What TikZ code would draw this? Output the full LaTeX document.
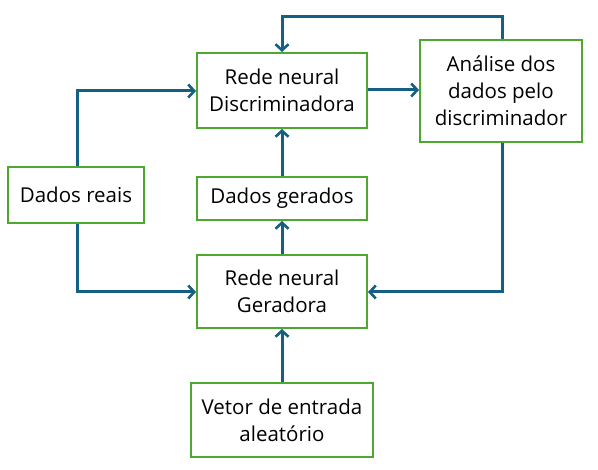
\documentclass[tikz,border=0pt]{standalone}
\usepackage{fontspec}
\setmainfont{Open Sans}
\usetikzlibrary{arrows.meta}
\definecolor{lineblue}{HTML}{156082}
\definecolor{boxgreen}{HTML}{4EA72E}
\begin{document}
\begin{tikzpicture}[x=1pt,y=-1pt,
  box/.style={draw=boxgreen,line width=2pt,fill=white,inner sep=0pt,align=center,
    font=\fontsize{20.5}{27}\selectfont},
  conn/.style={draw=lineblue,line width=3pt,-{Straight Barb[length=6pt,width=13pt,line width=2.6pt]}}]
\useasboundingbox (0,0) rectangle (598,470);
\node[box,minimum width=170pt,minimum height=75pt] (disc) at (282,90.5) {Rede neural\\Discriminadora};
\node[box,minimum width=162pt,minimum height=102pt] (anal) at (501,91) {Análise dos\\dados pelo\\discriminador};
\node[box,minimum width=136pt,minimum height=56pt] (reais) at (76,195) {Dados reais};
\node[box,minimum width=170pt,minimum height=43pt] (ger) at (282,198.5) {Dados gerados};
\node[box,minimum width=170pt,minimum height=73pt] (gera) at (282,291.5) {Rede neural\\Geradora};
\node[box,minimum width=182pt,minimum height=74pt] (vet) at (282,420) {Vetor de entrada\\aleatório};
\coordinate (tl) at (282,17);
\coordinate (tr) at (502,17);
\coordinate (lu) at (77,91);
\coordinate (ld) at (77,292);
\coordinate (rd) at (502,292);
\draw[conn] (anal.north -| tr) -- (tr) -- (tl) -- (disc.north);
\draw[conn] (disc.east |- 0,90) -- (anal.west |- 0,90);
\draw[conn] (reais.north -| lu) -- (lu) -- (disc.west |- lu);
\draw[conn] (reais.south -| ld) -- (ld) -- (gera.west |- ld);
\draw[conn] (anal.south -| rd) -- (rd) -- (gera.east |- rd);
\draw[conn] (gera.north) -- (ger.south);
\draw[conn] (ger.north) -- (disc.south);
\draw[conn] (vet.north) -- (gera.south);
\end{tikzpicture}
\end{document}
